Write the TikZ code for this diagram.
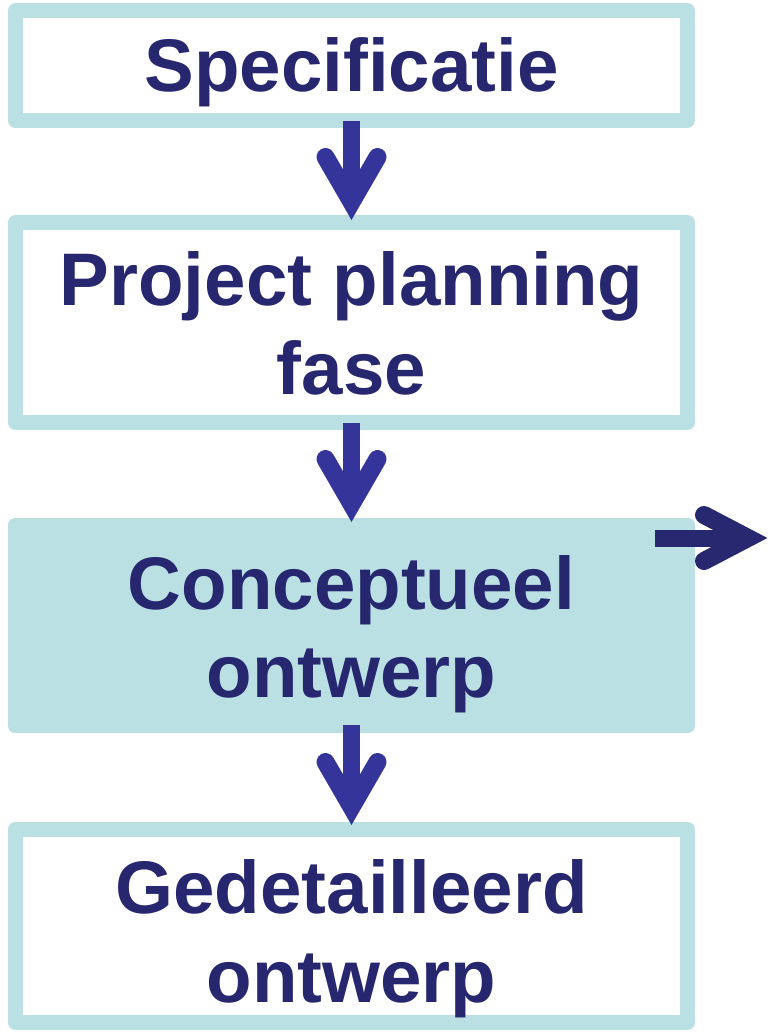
\documentclass[tikz,border=0pt]{standalone}
\usepackage{fontspec}
\setmainfont{Liberation Sans}
\definecolor{boxteal}{RGB}{186,224,228}
\definecolor{arrowblue}{RGB}{53,52,154}
\definecolor{arrownavy}{RGB}{40,40,112}
\definecolor{textnavy}{RGB}{39,39,112}
\begin{document}
\begin{tikzpicture}[x=1pt,y=-1pt,
  framebox/.style={draw=boxteal,line width=15pt,line join=round,fill=white,minimum width=672pt,inner sep=0pt,outer sep=0pt},
  filledbox/.style={fill=boxteal,rounded corners=7pt,minimum width=687pt,inner sep=0pt,outer sep=0pt},
  label/.style={anchor=base,text=textnavy,font=\bfseries\fontsize{74.5}{88}\selectfont,inner sep=0pt},
  shaft/.style={draw=arrowblue,line width=17pt},
  chevron/.style={draw=arrowblue,line width=18pt,line cap=round,line join=miter}
]
\useasboundingbox (0,0) rectangle (769,1033);
% boxes
\node[framebox,minimum height=110pt] (b1) at (351.5,65.5) {};
\node[framebox,minimum height=200pt] (b2) at (351.5,322.5) {};
\node[filledbox,minimum height=215pt] (b3) at (351.5,625.5) {};
\node[framebox,minimum height=193pt] (b4) at (351.5,926) {};
% texts
\node[label] (t1) at (351.5,92) {Specificatie};
\node[label] (t2a) at (351.5,305) {Project planning};
\node[label] (t2b) at (351.5,394) {fase};
\node[label] (t3a) at (351.5,609) {Conceptueel};
\node[label] (t3b) at (351.5,697) {ontwerp};
\node[label] (t4a) at (351.5,913) {Gedetailleerd};
\node[label] (t4b) at (351.5,1002) {ontwerp};
% arrow tips
\coordinate (p1) at (351.5,202);
\coordinate (p2) at (351.5,504);
\coordinate (p3) at (351.5,807);
\coordinate (rs) at (655,538);
\coordinate (pr) at (748,538);
% vertical arrows
\draw[shaft] (b1.south) -- (p1);
\draw[chevron] ([xshift=-26pt,yshift=45pt]p1) -- (p1) -- ([xshift=26pt,yshift=45pt]p1);
\draw[shaft] (b2.south) -- (p2);
\draw[chevron] ([xshift=-26pt,yshift=45pt]p2) -- (p2) -- ([xshift=26pt,yshift=45pt]p2);
\draw[shaft] ([yshift=8pt]b3.south) -- (p3);
\draw[chevron] ([xshift=-26pt,yshift=45pt]p3) -- (p3) -- ([xshift=26pt,yshift=45pt]p3);
% right arrow
\draw[shaft,draw=arrownavy] (rs) -- (pr);
\draw[chevron,draw=arrownavy] ([xshift=-44pt,yshift=23pt]pr) -- (pr) -- ([xshift=-44pt,yshift=-23pt]pr);
\end{tikzpicture}
\end{document}
